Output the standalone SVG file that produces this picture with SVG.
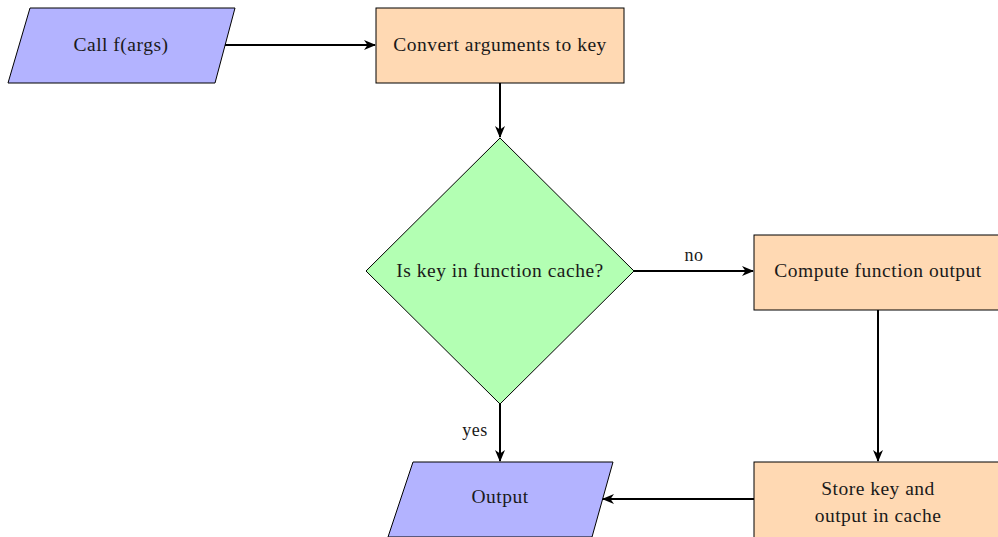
<svg xmlns="http://www.w3.org/2000/svg" width="998" height="537" viewBox="0 0 998 537">
<style>
.io{fill:#b3b3ff;stroke:#000;stroke-width:1}
.proc{fill:#ffd9b3;stroke:#000;stroke-width:1}
.dec{fill:#b3ffb3;stroke:#000;stroke-width:1}
text{font-family:"Liberation Serif","Times New Roman",serif;font-size:19.5px;letter-spacing:0.5px;fill:#1a1a1a;text-anchor:middle}
.lbl{font-size:18px}
.edge{fill:none;stroke:#000;stroke-width:2}
</style>
<defs>
<marker id="arr" viewBox="0 0 12 10" refX="11" refY="5" markerWidth="12" markerHeight="10" orient="auto" markerUnits="userSpaceOnUse" overflow="visible">
<path d="M0,0 L12,5 L0,10 L3.5,5 Z" fill="#000"/>
</marker>
</defs>
<g id="call">
<polygon class="io" points="30,8 235,8 215,83 8,83"/>
<text x="121" y="51">Call f(args)</text>
</g>
<g id="convert">
<rect class="proc" x="376" y="8" width="248" height="75"/>
<text x="500" y="51">Convert arguments to key</text>
</g>
<g id="decision">
<polygon class="dec" points="500,138 634,271 500,404 366,271"/>
<text x="500" y="277">Is key in function cache?</text>
</g>
<g id="compute">
<rect class="proc" x="754" y="235" width="250" height="75"/>
<text x="878" y="277">Compute function output</text>
</g>
<g id="store">
<rect class="proc" x="754" y="462" width="250" height="80"/>
<text x="878" y="495">Store key and</text>
<text x="878" y="522">output in cache</text>
</g>
<g id="output">
<polygon class="io" points="413,462 613,462 592,537 388,537"/>
<text x="500" y="503">Output</text>
</g>
<g id="connectors">
<path class="edge" d="M225,45 H375" marker-end="url(#arr)"/>
<path class="edge" d="M500,83 V137" marker-end="url(#arr)"/>
<path class="edge" d="M634,271 H753" marker-end="url(#arr)"/>
<path class="edge" d="M878,310 V461" marker-end="url(#arr)"/>
<path class="edge" d="M500,404 V461" marker-end="url(#arr)"/>
<path class="edge" d="M754,499 H603" marker-end="url(#arr)"/>
<text class="lbl" x="694" y="261">no</text>
<text class="lbl" x="475" y="436">yes</text>
</g>
</svg>
